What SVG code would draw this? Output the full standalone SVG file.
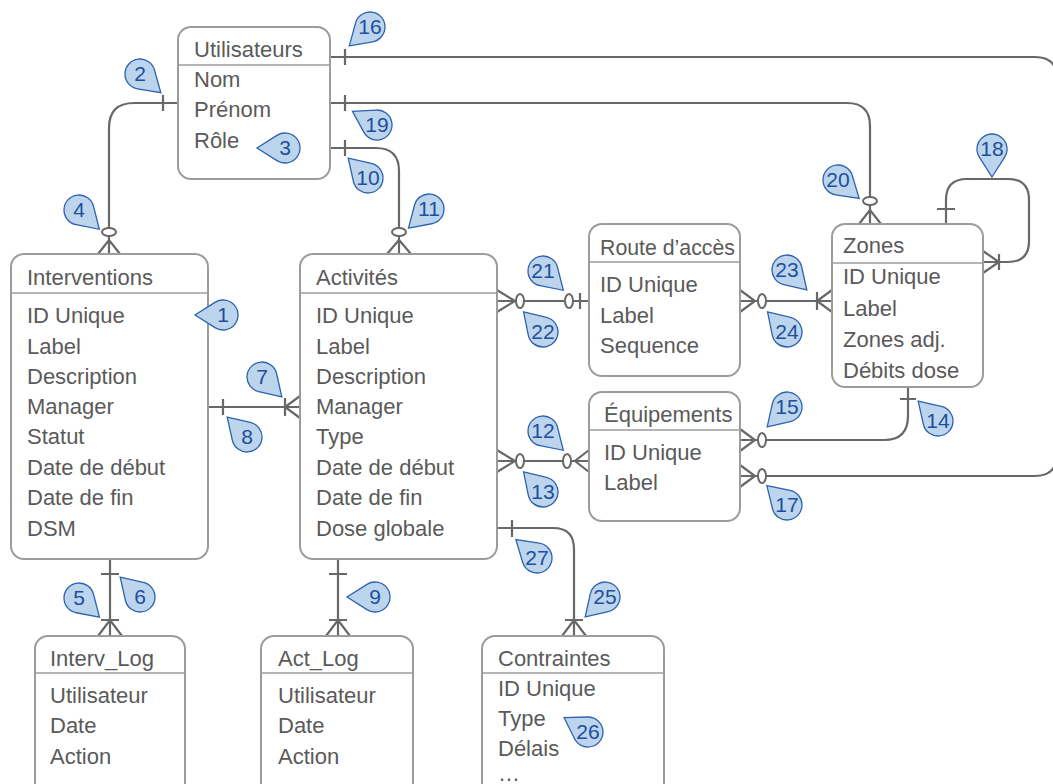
<svg xmlns="http://www.w3.org/2000/svg" xmlns:xlink="http://www.w3.org/1999/xlink" width="1053" height="784" viewBox="0 0 1053 784">
<style>
.box{fill:#fff;stroke:#9c9c9c;stroke-width:2}
.hdr{stroke:#9c9c9c;stroke-width:1.5;fill:none}
.t{font-family:"Liberation Sans",Arial,sans-serif;font-size:22px;fill:#5a5a5a}
.c{fill:none;stroke:#686868;stroke-width:2.2}
.o{fill:#fff;stroke:#686868;stroke-width:2}
.drop{fill:#bdd5ec;stroke:#2d62b1;stroke-width:1.3}
.n{font-family:"Liberation Sans",Arial,sans-serif;font-size:21px;fill:#1c4f9e;text-anchor:middle}
</style>
<defs>
<path id="drop" class="drop" d="M0,28 L12.66,8.04 A15,15 0 1 0 -12.66,8.04 Z"/>
</defs>
<rect width="1053" height="784" fill="#fff"/>

<g id="connectors">
  <path class="c" d="M178,103 H134 Q109,103 109,128 V254"/>
  <path class="c" d="M163,95 V111 M98,254 L109,240 L120,254"/>
  <ellipse class="o" cx="109" cy="232" rx="7" ry="4"/>
  <path class="c" d="M330,57 H1035 Q1057,57 1057,79 V454 Q1057,476 1035,476 H740"/>
  <path class="c" d="M345,49 V65 M740,465 L755,476 L740,487"/>
  <ellipse class="o" cx="762" cy="476" rx="4" ry="7"/>
  <path class="c" d="M330,103 H847 Q870,103 870,126 V224"/>
  <path class="c" d="M345,95 V111 M859,224 L870,210 L881,224"/>
  <ellipse class="o" cx="870" cy="201" rx="7" ry="4"/>
  <path class="c" d="M330,148 H376 Q399,148 399,171 V254"/>
  <path class="c" d="M345,140 V156 M387,254 L399,240 L411,254"/>
  <ellipse class="o" cx="399" cy="232" rx="7" ry="4"/>
  <path class="c" d="M208,407 H300"/>
  <path class="c" d="M223,399 V415 M285,398 V416 M300,396 L285,407 L300,418"/>
  <path class="c" d="M110,559 V636"/>
  <path class="c" d="M101,574 H119 M101,620 H119 M98,636 L110,620 L122,636"/>
  <path class="c" d="M338,559 V636"/>
  <path class="c" d="M329,574 H347 M329,620 H347 M326,636 L338,620 L350,636"/>
  <path class="c" d="M497,528 H553 Q574,528 574,549 V636"/>
  <path class="c" d="M512,520 V537 M565,620 H583 M562,636 L574,620 L586,636"/>
  <path class="c" d="M497,301 H589"/>
  <path class="c" d="M497,290 L515,301 L497,312 M580,293 V309"/>
  <ellipse class="o" cx="520" cy="301" rx="4" ry="7"/>
  <ellipse class="o" cx="569" cy="301" rx="4" ry="7"/>
  <path class="c" d="M740,301 H832"/>
  <path class="c" d="M740,290 L755,301 L740,312 M817,292 V310 M832,290 L817,301 L832,312"/>
  <ellipse class="o" cx="762" cy="301" rx="4" ry="7"/>
  <path class="c" d="M497,461 H589"/>
  <path class="c" d="M497,450 L515,461 L497,472 M589,450 L575,461 L589,472"/>
  <ellipse class="o" cx="520" cy="461" rx="4" ry="7"/>
  <ellipse class="o" cx="567" cy="461" rx="4" ry="7"/>
  <path class="c" d="M908,387 V416 Q908,440 884,440 H740"/>
  <path class="c" d="M900,399 H916 M740,429 L755,440 L740,451"/>
  <ellipse class="o" cx="762" cy="440" rx="4" ry="7"/>
  <path class="c" d="M946,224 V200 Q946,179 967,179 H1008 Q1029,179 1029,200 V241 Q1029,262 1008,262 H983"/>
  <path class="c" d="M937,209 H955 M983,251 L999,262 L983,273 M999,254 V270"/>
</g>

<g id="utilisateurs">
  <rect class="box" x="178" y="27" width="152" height="152" rx="13"/>
  <line class="hdr" x1="179" y1="65" x2="329" y2="65"/>
  <text class="t" x="194" y="57">Utilisateurs</text>
  <text class="t" x="194" y="87">Nom</text>
  <text class="t" x="194" y="117">Prénom</text>
  <text class="t" x="194" y="148">Rôle</text>
</g>

<g id="interventions">
  <rect class="box" x="11" y="254" width="197" height="305" rx="13"/>
  <line class="hdr" x1="12" y1="293" x2="207" y2="293"/>
  <text class="t" x="27" y="285">Interventions</text>
  <text class="t" x="27" y="323">ID Unique</text>
  <text class="t" x="27" y="354">Label</text>
  <text class="t" x="27" y="384">Description</text>
  <text class="t" x="27" y="414">Manager</text>
  <text class="t" x="27" y="444">Statut</text>
  <text class="t" x="27" y="475">Date de début</text>
  <text class="t" x="27" y="505">Date de fin</text>
  <text class="t" x="27" y="536">DSM</text>
</g>

<g id="activites">
  <rect class="box" x="300" y="254" width="197" height="305" rx="13"/>
  <line class="hdr" x1="301" y1="293" x2="496" y2="293"/>
  <text class="t" x="316" y="285">Activités</text>
  <text class="t" x="316" y="323">ID Unique</text>
  <text class="t" x="316" y="354">Label</text>
  <text class="t" x="316" y="384">Description</text>
  <text class="t" x="316" y="414">Manager</text>
  <text class="t" x="316" y="444">Type</text>
  <text class="t" x="316" y="475">Date de début</text>
  <text class="t" x="316" y="505">Date de fin</text>
  <text class="t" x="316" y="536">Dose globale</text>
</g>

<g id="route">
  <rect class="box" x="589" y="224" width="151" height="152" rx="13"/>
  <line class="hdr" x1="590" y1="262" x2="739" y2="262"/>
  <text class="t" x="600" y="255" textLength="135" lengthAdjust="spacingAndGlyphs">Route d’accès</text>
  <text class="t" x="600" y="292">ID Unique</text>
  <text class="t" x="600" y="323">Label</text>
  <text class="t" x="600" y="353">Sequence</text>
</g>

<g id="zones">
  <rect class="box" x="832" y="224" width="151" height="163" rx="13"/>
  <line class="hdr" x1="833" y1="263" x2="982" y2="263"/>
  <text class="t" x="843" y="253">Zones</text>
  <text class="t" x="843" y="284">ID Unique</text>
  <text class="t" x="843" y="316">Label</text>
  <text class="t" x="843" y="347">Zones adj.</text>
  <text class="t" x="843" y="378">Débits dose</text>
</g>

<g id="equipements">
  <rect class="box" x="589" y="392" width="151" height="129" rx="13"/>
  <line class="hdr" x1="590" y1="430" x2="739" y2="430"/>
  <text class="t" x="604" y="422">Équipements</text>
  <text class="t" x="604" y="460">ID Unique</text>
  <text class="t" x="604" y="490">Label</text>
</g>

<g id="interv_log">
  <rect class="box" x="35" y="636" width="150" height="170" rx="13"/>
  <line class="hdr" x1="36" y1="673" x2="184" y2="673"/>
  <text class="t" x="50" y="666">Interv_Log</text>
  <text class="t" x="50" y="703">Utilisateur</text>
  <text class="t" x="50" y="733">Date</text>
  <text class="t" x="50" y="764">Action</text>
</g>

<g id="act_log">
  <rect class="box" x="261" y="636" width="152" height="170" rx="13"/>
  <line class="hdr" x1="262" y1="673" x2="412" y2="673"/>
  <text class="t" x="278" y="666">Act_Log</text>
  <text class="t" x="278" y="703">Utilisateur</text>
  <text class="t" x="278" y="733">Date</text>
  <text class="t" x="278" y="764">Action</text>
</g>

<g id="contraintes">
  <rect class="box" x="482" y="636" width="182" height="170" rx="13"/>
  <line class="hdr" x1="483" y1="673" x2="663" y2="673"/>
  <text class="t" x="498" y="666">Contraintes</text>
  <text class="t" x="498" y="696">ID Unique</text>
  <text class="t" x="498" y="726">Type</text>
  <text class="t" x="498" y="756">Délais</text>
  <text class="t" x="498" y="781">…</text>
</g>

<g id="callouts">
  <g id="b1"><use xlink:href="#drop" href="#drop" transform="translate(223,315) rotate(90)"/><text class="n" x="223" y="322">1</text></g>
  <g id="b2"><use xlink:href="#drop" href="#drop" transform="translate(140,74) rotate(-48)"/><text class="n" x="140" y="81">2</text></g>
  <g id="b3"><use xlink:href="#drop" href="#drop" transform="translate(285,148) rotate(90)"/><text class="n" x="285" y="155">3</text></g>
  <g id="b4"><use xlink:href="#drop" href="#drop" transform="translate(79,210) rotate(-46.5)"/><text class="n" x="79" y="217">4</text></g>
  <g id="b5"><use xlink:href="#drop" href="#drop" transform="translate(79,598) rotate(-47)"/><text class="n" x="79" y="605">5</text></g>
  <g id="b6"><use xlink:href="#drop" href="#drop" transform="translate(140,597) rotate(135)"/><text class="n" x="140" y="604">6</text></g>
  <g id="b7"><use xlink:href="#drop" href="#drop" transform="translate(262,377) rotate(-45)"/><text class="n" x="262" y="384">7</text></g>
  <g id="b8"><use xlink:href="#drop" href="#drop" transform="translate(247,437) rotate(135)"/><text class="n" x="247" y="444">8</text></g>
  <g id="b9"><use xlink:href="#drop" href="#drop" transform="translate(375,597) rotate(90)"/><text class="n" x="375" y="604">9</text></g>
  <g id="b10"><use xlink:href="#drop" href="#drop" transform="translate(368,178) rotate(135)"/><text class="n" x="368" y="185">10</text></g>
  <g id="b11"><use xlink:href="#drop" href="#drop" transform="translate(429,209) rotate(47)"/><text class="n" x="429" y="216">11</text></g>
  <g id="b12"><use xlink:href="#drop" href="#drop" transform="translate(543,431) rotate(-46.5)"/><text class="n" x="543" y="438">12</text></g>
  <g id="b13"><use xlink:href="#drop" href="#drop" transform="translate(543,492) rotate(136)"/><text class="n" x="543" y="499">13</text></g>
  <g id="b14"><use xlink:href="#drop" href="#drop" transform="translate(938,421) rotate(135)"/><text class="n" x="938" y="428">14</text></g>
  <g id="b15"><use xlink:href="#drop" href="#drop" transform="translate(787,407) rotate(45)"/><text class="n" x="787" y="414">15</text></g>
  <g id="b16"><use xlink:href="#drop" href="#drop" transform="translate(370,27) rotate(47.7)"/><text class="n" x="370" y="34">16</text></g>
  <g id="b17"><use xlink:href="#drop" href="#drop" transform="translate(787,505) rotate(134)"/><text class="n" x="787" y="512">17</text></g>
  <g id="b18"><use xlink:href="#drop" href="#drop" transform="translate(992,149) rotate(0)"/><text class="n" x="992" y="156">18</text></g>
  <g id="b19"><use xlink:href="#drop" href="#drop" transform="translate(377,125) rotate(119)"/><text class="n" x="377" y="132">19</text></g>
  <g id="b20"><use xlink:href="#drop" href="#drop" transform="translate(838,180) rotate(-49)"/><text class="n" x="838" y="187">20</text></g>
  <g id="b21"><use xlink:href="#drop" href="#drop" transform="translate(543,271) rotate(-46.5)"/><text class="n" x="543" y="278">21</text></g>
  <g id="b22"><use xlink:href="#drop" href="#drop" transform="translate(543,332) rotate(136)"/><text class="n" x="543" y="339">22</text></g>
  <g id="b23"><use xlink:href="#drop" href="#drop" transform="translate(787,270) rotate(-45)"/><text class="n" x="787" y="277">23</text></g>
  <g id="b24"><use xlink:href="#drop" href="#drop" transform="translate(787,332) rotate(136)"/><text class="n" x="787" y="339">24</text></g>
  <g id="b25"><use xlink:href="#drop" href="#drop" transform="translate(605,597) rotate(45)"/><text class="n" x="605" y="604">25</text></g>
  <g id="b26"><use xlink:href="#drop" href="#drop" transform="translate(588,732) rotate(121)"/><text class="n" x="588" y="739">26</text></g>
  <g id="b27"><use xlink:href="#drop" href="#drop" transform="translate(537,558) rotate(131)"/><text class="n" x="537" y="565">27</text></g>
</g>
</svg>
